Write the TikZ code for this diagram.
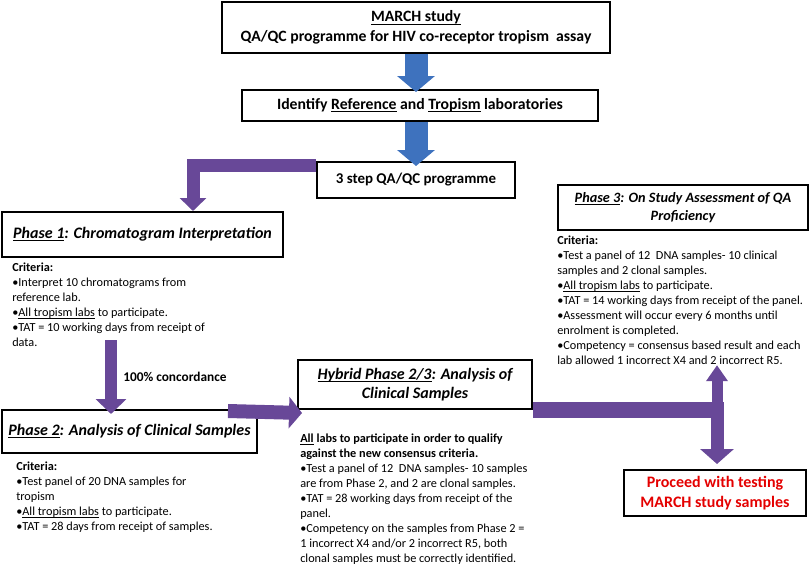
\documentclass[tikz,border=0pt]{standalone}
\usepackage{amsmath}
\usepackage{fontspec}
\setmainfont{Carlito}
\usetikzlibrary{arrows.meta,calc}
\definecolor{qblue}{RGB}{62,114,190}
\definecolor{qpurple}{RGB}{104,72,152}
\definecolor{qred}{RGB}{228,0,0}
\newcommand{\ul}[1]{\underline{\smash[b]{#1}}}
\tikzset{
  box/.style={draw,line width=1.5pt,inner sep=0pt,align=center},
  headfont/.style={font=\fontsize{11.8}{15}\selectfont\bfseries},
  phasefont/.style={font=\fontsize{12}{14.5}\selectfont\bfseries\itshape},
  crit/.style={anchor=north west,inner sep=0pt,align=left,font=\fontsize{9.2}{11.25}\selectfont},
  bluearrow/.style={qblue,line width=17.25pt,-{Triangle[width=27.75pt,length=12pt]}},
  lbar/.style={qpurple,line width=9.75pt,-{Triangle[width=19.5pt,length=9.75pt]}},
  darrow/.style={qpurple,line width=9pt,-{Triangle[width=22.5pt,length=11.25pt]}},
  rarrow/.style={qpurple,line width=10.5pt,-{Triangle[width=23.25pt,length=9.75pt]}},
  tbar/.style={qpurple,line width=12pt},
  uparrow/.style={qpurple,line width=8.25pt,-{Triangle[width=15.75pt,length=12pt]}},
  dnarrow/.style={qpurple,line width=9.75pt,-{Triangle[width=24.75pt,length=11.25pt]}}
}
\begin{document}
\begin{tikzpicture}[x=0.75pt,y=-0.75pt]
  \useasboundingbox (0,0) rectangle (810,565);
  \node[box,headfont,minimum width=388*0.75pt,minimum height=51*0.75pt] (march) at (416,27.5)
    {\ul{MARCH study}\\QA/QC programme for HIV co-receptor tropism~ assay};
  \node[box,headfont,minimum width=356*0.75pt,minimum height=31*0.75pt] (ident) at (420,105.5)
    {Identify \ul{Reference} and \ul{Tropism} laboratories};
  \node[box,font=\fontsize{11.2}{13}\selectfont\bfseries,minimum width=198*0.75pt,minimum height=36*0.75pt] (step) at (416,180)
    {3 step QA/QC programme};
  \node[box,phasefont,minimum width=281*0.75pt,minimum height=45*0.75pt] (p1) at (142.5,234.5)
    {\ul{Phase 1}: Chromatogram Interpretation};
  \node[box,phasefont,minimum width=255*0.75pt,minimum height=43*0.75pt] (p2) at (129.5,431.5)
    {\ul{Phase 2}: Analysis of Clinical Samples};
  \node[box,phasefont,minimum width=234*0.75pt,minimum height=49*0.75pt] (hyb) at (415,384.5)
    {\ul{Hybrid Phase 2/3}: Analysis of\\Clinical Samples};
  \node[box,phasefont,font=\fontsize{10.7}{13}\selectfont\bfseries\itshape,minimum width=250*0.75pt,minimum height=45*0.75pt] (p3) at (683,207.5)
    {\ul{Phase 3}: On Study Assessment of QA\\Proficiency};
  \node[box,font=\fontsize{12}{14.5}\selectfont\bfseries,text=qred,minimum width=182*0.75pt,minimum height=46*0.75pt] (proc) at (715,493)
    {Proceed with testing\\MARCH study samples};
  \node[crit] (crit1) at (12,263) {\textbf{Criteria:}\\
    •Interpret 10 chromatograms from\\reference lab.\\
    •\ul{All tropism labs} to participate.\\
    •TAT = 10 working days from receipt of\\data.};
  \node[crit] (crit2) at (16,462) {\textbf{Criteria:}\\
    •Test panel of 20 DNA samples for\\tropism\\
    •\ul{All tropism labs} to participate.\\
    •TAT = 28 days from receipt of samples.};
  \node[crit] (crith) at (300,434) {\textbf{\ul{All} labs to participate in order to qualify}\\
    \textbf{against the new consensus criteria.}\\
    •Test a panel of 12~ DNA samples- 10 samples\\are from Phase 2, and 2 are clonal samples.\\
    •TAT = 28 working days from receipt of the\\panel.\\
    •Competency on the samples from Phase 2 =\\1 incorrect X4 and/or 2 incorrect R5, both\\
    clonal samples must be correctly identified.};
  \node[crit] (crit3) at (557,236) {\textbf{Criteria:}\\
    •Test a panel of 12~ DNA samples- 10 clinical\\samples and 2 clonal samples.\\
    •\ul{All tropism labs} to participate.\\
    •TAT = 14 working days from receipt of the panel.\\
    •Assessment will occur every 6 months until\\enrolment is completed.\\
    •Competency = consensus based result and each\\lab allowed 1 incorrect X4 and 2 incorrect R5.};
  \node[anchor=west,inner sep=0pt,font=\fontsize{10}{12}\selectfont\bfseries] (conc) at (123,377) {100\% concordance};
  \coordinate (tee) at (717,410);
  \draw[bluearrow,shorten >=-2.25pt] (march.south) -- (march.south |- ident.north);
  \draw[bluearrow,shorten >=-3.75pt] (step.north |- ident.south) -- (step.north);
  \draw[lbar] ([yshift=-3.4pt]step.north west) -| ($(p1.north west)+(192,0)$);
  \draw[darrow,shorten <=61.5pt,shorten >=-3.75pt] ($(p1.south west)+(110,0)$) -- ($(p2.north west)+(110,0)$);
  \draw[rarrow] ($(p2.north east)+(-30,2)$) -- ($(hyb.south west)+(5,3)$);
  \draw[tbar] (hyb.south east) -- ($(tee)+(6.5,0)$);
  \draw[uparrow] (tee) -- (tee |- crit3.south);
  \draw[dnarrow,shorten >=3.75pt] (tee) -- (tee |- proc.north);
\end{tikzpicture}
\end{document}
